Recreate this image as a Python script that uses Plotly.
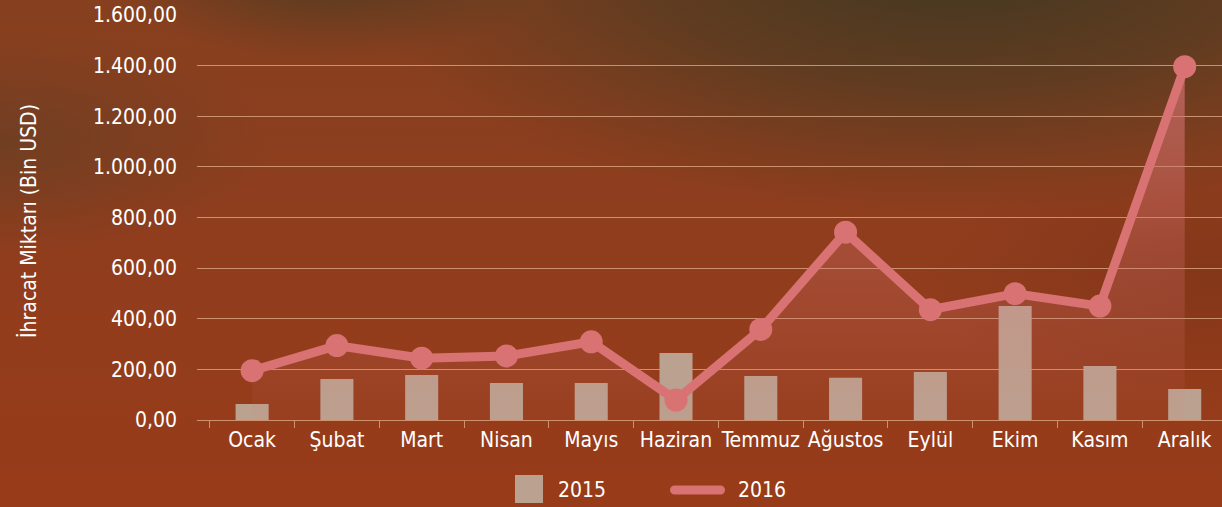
import base64
import plotly.graph_objects as go

months = ["Ocak", "Şubat", "Mart", "Nisan", "Mayıs", "Haziran", "Temmuz",
          "Ağustos", "Eylül", "Ekim", "Kasım", "Aralık"]
values_2015 = [63, 162, 178, 146, 146, 265, 174, 167, 190, 450, 213, 122]
values_2016 = [195, 294, 244, 253, 309, 79, 358, 742, 436, 499, 450, 1396]
y_ticks = [0, 200, 400, 600, 800, 1000, 1200, 1400, 1600]

W, H = 1222, 507
FONT = "DejaVu Sans Condensed, DejaVu Sans, sans-serif"
LINE_COLOR = "#D87273"
BAR_COLOR = "#BBA290"
GRID = "rgba(225,175,140,0.75)"

svg = f"""<svg xmlns='http://www.w3.org/2000/svg' width='{W}' height='{H}' viewBox='0 0 {W} {H}' preserveAspectRatio='none'>
<defs>
<linearGradient id='base' x1='0' y1='0' x2='0' y2='1'>
<stop offset='0' stop-color='#86401F'/>
<stop offset='0.5' stop-color='#903D1D'/>
<stop offset='1' stop-color='#983B19'/>
</linearGradient>
<radialGradient id='a' cx='0.78' cy='-0.08' r='0.5'>
<stop offset='0' stop-color='#3F3720' stop-opacity='1'/>
<stop offset='0.5' stop-color='#4F3A21' stop-opacity='0.7'/>
<stop offset='1' stop-color='#5A3A20' stop-opacity='0'/>
</radialGradient>
<radialGradient id='b' cx='0.27' cy='-0.06' r='0.18'>
<stop offset='0' stop-color='#4E3A20' stop-opacity='1'/>
<stop offset='1' stop-color='#5A3A20' stop-opacity='0'/>
</radialGradient>
<radialGradient id='c' cx='0.0' cy='0.28' r='0.22'>
<stop offset='0' stop-color='#6A3E24' stop-opacity='0.8'/>
<stop offset='1' stop-color='#6A3E24' stop-opacity='0'/>
</radialGradient>
<radialGradient id='d' cx='1.0' cy='0.55' r='0.25'>
<stop offset='0' stop-color='#7C3216' stop-opacity='0.6'/>
<stop offset='1' stop-color='#7C3216' stop-opacity='0'/>
</radialGradient>
</defs>
<rect width='{W}' height='{H}' fill='url(#base)'/>
<rect width='{W}' height='{H}' fill='url(#c)'/>
<rect width='{W}' height='{H}' fill='url(#d)'/>
<rect width='{W}' height='{H}' fill='url(#b)'/>
<rect width='{W}' height='{H}' fill='url(#a)'/>
</svg>"""
bg_src = "data:image/svg+xml;base64," + base64.b64encode(svg.encode()).decode()

fig = go.Figure()

fig.add_trace(go.Bar(
    x=months, y=values_2015, name="2015",
    marker=dict(color=BAR_COLOR, line=dict(width=0)),
    width=0.39, showlegend=False,
))

fig.add_trace(go.Scatter(
    x=months, y=values_2016, name="2016",
    mode="lines+markers",
    line=dict(color=LINE_COLOR, width=9),
    marker=dict(color=LINE_COLOR, size=23),
    fill="tozeroy",
    fillgradient=dict(
        type="vertical", start=0, stop=1400,
        colorscale=[[0, "rgba(216,114,115,0.06)"], [0.5, "rgba(216,114,115,0.3)"],
                    [1, "rgba(216,114,115,0.7)"]],
    ),
    showlegend=False,
))

x0 = 197 / W
fig.update_layout(
    width=W, height=H,
    margin=dict(l=0, r=0, t=0, b=0),
    paper_bgcolor="#8E3C1D",
    plot_bgcolor="rgba(0,0,0,0)",
    separators=",.",
    showlegend=False,
    bargap=0.61,
    font=dict(family=FONT, color="white", size=21),
    images=[dict(source=bg_src, xref="paper", yref="paper", x=0, y=1,
                 sizex=1, sizey=1, sizing="stretch", layer="below",
                 xanchor="left", yanchor="top")],
    xaxis=dict(
        domain=[x0, 1],
        range=[-0.65, 11.44],
        showgrid=False,
        ticks="outside", ticklen=7, tickcolor=GRID, tickwidth=1,
        tickson="boundaries", tickangle=0, ticklabelstandoff=5,
        tickfont=dict(family=FONT, size=21, color="white"),
        zeroline=False, showline=False,
        automargin=False,
    ),
    yaxis=dict(
        domain=[(H - 420) / H, (H - 15) / H],
        range=[0, 1600],
        tickvals=y_ticks,
        tickformat=",.2f",
        showgrid=True, gridcolor=GRID, gridwidth=1,
        zeroline=True, zerolinecolor=GRID, zerolinewidth=1,
        ticks="", ticklabelstandoff=19,
        tickfont=dict(family=FONT, size=21, color="white"),
        automargin=False,
    ),
    annotations=[
        dict(text="İhracat Miktarı (Bin USD)", textangle=-90,
             xref="paper", yref="paper", x=28 / W, y=(H - 221) / H,
             showarrow=False, font=dict(family=FONT, size=21, color="white"),
             xanchor="center", yanchor="middle"),
        dict(text="2015", xref="paper", yref="paper", x=556 / W, y=(H - 490) / H,
             showarrow=False, xanchor="left", yanchor="middle",
             font=dict(family=FONT, size=21, color="white")),
        dict(text="2016", xref="paper", yref="paper", x=736 / W, y=(H - 490) / H,
             showarrow=False, xanchor="left", yanchor="middle",
             font=dict(family=FONT, size=21, color="white")),
    ],
    shapes=[
        dict(type="rect", xref="paper", yref="paper",
             x0=515 / W, x1=543 / W, y0=(H - 503) / H, y1=(H - 475) / H,
             fillcolor=BAR_COLOR, line=dict(width=0)),
        dict(type="path", xref="paper", yref="paper",
             xsizemode="pixel", ysizemode="pixel",
             xanchor=697.5 / W, yanchor=(H - 490) / H,
             path="M-23,-4.5 L23,-4.5 C25.5,-4.5 27.5,-2.5 27.5,0 C27.5,2.5 25.5,4.5 23,4.5 "
                  "L-23,4.5 C-25.5,4.5 -27.5,2.5 -27.5,0 C-27.5,-2.5 -25.5,-4.5 -23,-4.5 Z",
             fillcolor=LINE_COLOR, line=dict(width=0)),
    ],
)

fig.write_html(
    "out.html",
    config={"displayModeBar": False},
    post_script="document.body.style.margin='0';document.body.style.padding='0';"
                "document.body.style.overflow='hidden';",
)
